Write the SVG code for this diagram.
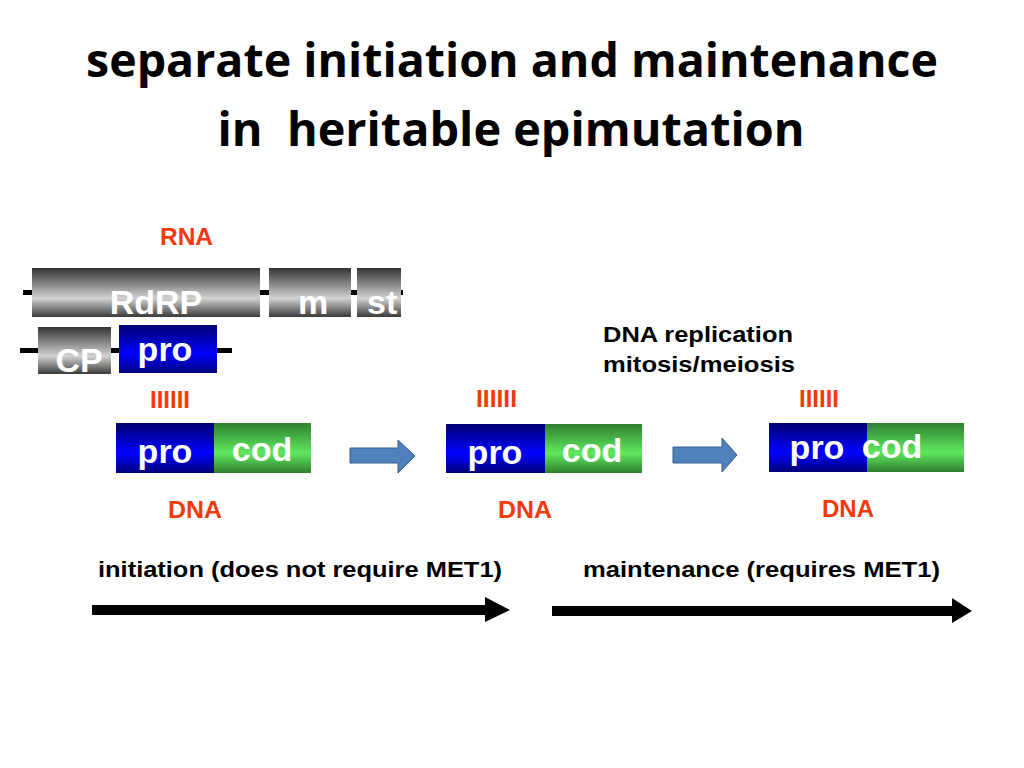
<svg xmlns="http://www.w3.org/2000/svg" width="1024" height="768" viewBox="0 0 1024 768">
<style>
.title{font-family:"Open Sans","Liberation Sans",sans-serif;font-weight:700;font-size:46px;fill:#000;text-anchor:middle}
.lbl{font-family:"Liberation Sans",Arial,sans-serif;font-weight:700;font-size:34px;fill:#fff;text-anchor:middle}
.red{font-family:"Liberation Sans",Arial,sans-serif;font-weight:700;font-size:24px;fill:#f23a0c}
.blk{font-family:"Liberation Sans",Arial,sans-serif;font-weight:700;font-size:22px;fill:#000}
.gray{fill:url(#grayGrad)}
.blue{fill:url(#blueGrad)}
.green{fill:url(#greenGrad)}
.bar{fill:#000}
.barrow{fill:#4f81bd;stroke:#385d8a;stroke-width:1}
</style>
<defs>
<linearGradient id="grayGrad" x1="0" y1="0" x2="0" y2="1">
<stop offset="0" stop-color="#333"/>
<stop offset="0.62" stop-color="#d2d2d2"/>
<stop offset="1" stop-color="#3a3a3a"/>
</linearGradient>
<linearGradient id="blueGrad" x1="0" y1="0" x2="0" y2="1">
<stop offset="0" stop-color="#000070"/>
<stop offset="0.6" stop-color="#0000ff"/>
<stop offset="1" stop-color="#00007a"/>
</linearGradient>
<linearGradient id="greenGrad" x1="0" y1="0" x2="0" y2="1">
<stop offset="0" stop-color="#2f7f2f"/>
<stop offset="0.6" stop-color="#60e860"/>
<stop offset="1" stop-color="#2e7e2e"/>
</linearGradient>
<clipPath id="clipSt"><rect x="357" y="268" width="44" height="49"/></clipPath>
<clipPath id="clipCP"><rect x="38" y="327" width="73" height="47"/></clipPath>
</defs>
<rect width="1024" height="768" fill="#fff"/>

<g id="title">
<text class="title" x="512" y="77" textLength="852" lengthAdjust="spacingAndGlyphs">separate initiation and maintenance</text>
<text class="title" x="511" y="146" textLength="587" lengthAdjust="spacingAndGlyphs" xml:space="preserve">in  heritable epimutation</text>
</g>

<g id="rna-label"><text class="red" x="160" y="245" textLength="53" lengthAdjust="spacingAndGlyphs">RNA</text></g>

<g id="rna-lines">
<rect class="bar" x="23" y="290" width="380" height="5"/>
<rect class="bar" x="20" y="348" width="212" height="5"/>
</g>

<g id="rdrp"><rect class="gray" x="32" y="268" width="228" height="49"/><text class="lbl" x="156" y="314">RdRP</text></g>
<g id="m"><rect class="gray" x="269" y="268" width="82" height="49"/><text class="lbl" x="313" y="314">m</text></g>
<g id="st"><rect class="gray" x="357" y="268" width="44" height="49"/><text class="lbl" x="367" y="314" style="text-anchor:start" clip-path="url(#clipSt)">st</text></g>
<g id="cp"><rect class="gray" x="38" y="327" width="73" height="47"/><text class="lbl" x="79" y="372" clip-path="url(#clipCP)">CP</text></g>
<g id="rna-pro"><rect class="blue" x="119" y="325" width="98" height="48"/><text class="lbl" x="165" y="361">pro</text></g>

<g id="dna1">
<text class="red" x="150" y="408" textLength="40" lengthAdjust="spacingAndGlyphs">IIIIII</text>
<rect class="blue" x="116" y="423" width="98" height="50"/>
<rect class="green" x="214" y="423" width="97" height="50"/>
<text class="lbl" x="165" y="463">pro</text>
<text class="lbl" x="262" y="461">cod</text>
<text class="red" x="168" y="518" textLength="54" lengthAdjust="spacingAndGlyphs">DNA</text>
</g>

<g id="dna2">
<text class="red" x="476" y="407" textLength="41" lengthAdjust="spacingAndGlyphs">IIIIII</text>
<rect class="blue" x="446" y="424" width="99" height="49"/>
<rect class="green" x="545" y="424" width="97" height="49"/>
<text class="lbl" x="495" y="464">pro</text>
<text class="lbl" x="592" y="462">cod</text>
<text class="red" x="498" y="518" textLength="54" lengthAdjust="spacingAndGlyphs">DNA</text>
</g>

<g id="dna3">
<text class="red" x="799" y="407" textLength="40" lengthAdjust="spacingAndGlyphs">IIIIII</text>
<rect class="blue" x="769" y="423" width="98" height="49"/>
<rect class="green" x="867" y="423" width="97" height="49"/>
<text class="lbl" x="817" y="459">pro</text>
<text class="lbl" x="892" y="458">cod</text>
<text class="red" x="822" y="517" textLength="52" lengthAdjust="spacingAndGlyphs">DNA</text>
</g>

<g id="replication-label">
<text class="blk" x="603" y="342" textLength="190" lengthAdjust="spacingAndGlyphs">DNA replication</text>
<text class="blk" x="603" y="372" textLength="192" lengthAdjust="spacingAndGlyphs">mitosis/meiosis</text>
</g>

<g id="phase-labels">
<text class="blk" x="98" y="577" textLength="404" lengthAdjust="spacingAndGlyphs">initiation (does not require MET1)</text>
<text class="blk" x="583" y="577" textLength="357" lengthAdjust="spacingAndGlyphs">maintenance (requires MET1)</text>
</g>

<g id="connectors">
<polygon class="barrow" points="350,448 398,448 398,440 415,456 398,473 398,463 350,463"/>
<polygon class="barrow" points="673,447 722,447 722,438 737,455 722,472 722,463 673,463"/>
<polygon fill="#000" points="92,605 485,605 485,597 510,610 485,622 485,615 92,615"/>
<polygon fill="#000" points="552,606 952,606 952,598 972,611 952,623 952,616 552,616"/>
</g>
</svg>
